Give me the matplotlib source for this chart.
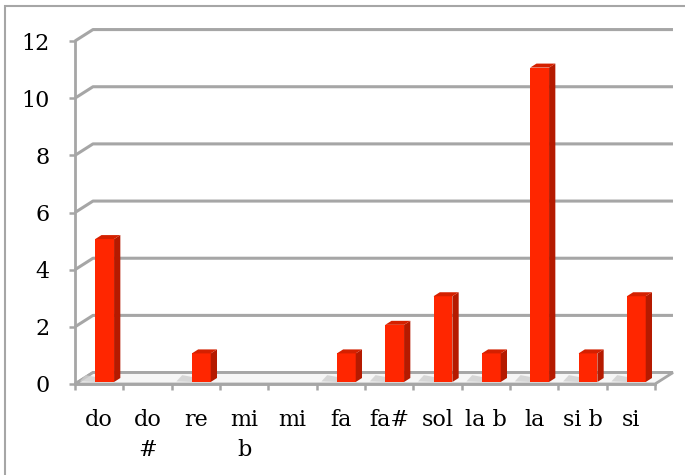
# 3D-looking column chart of note counts (Excel style)

import matplotlib.pyplot as plt
from matplotlib.patches import Polygon, Rectangle

# Data
notes = ['do', 'do #', 're', 'mi b', 'mi', 'fa', 'fa#', 'sol', 'la b', 'la', 'si b', 'si']
tick_labels = ['do', 'do\n#', 're', 'mi\nb', 'mi', 'fa', 'fa#', 'sol', 'la b', 'la', 'si b', 'si']
counts = [5, 0, 1, 0, 0, 1, 2, 3, 1, 11, 1, 3]
y_ticks = [0, 2, 4, 6, 8, 10, 12]

grid_col = '#A6A6A6'
front_col = '#FF2600'
side_col = '#B51A00'
top_col = '#D42000'

plt.rcParams['font.family'] = ['DejaVu Serif']

fig = plt.figure(figsize=(6.85, 4.75), dpi=100)
ax = fig.add_axes([75 / 685, 91 / 475, 580 / 685, 343 / 475])
n = len(notes)
ax.set_xlim(0, n)
ax.set_ylim(0, 12)

# depth of the 3D box, in data units (about 18 px right, 12 px up)
DX, DY = 0.372, 0.40

# back wall gridlines with the left wall diagonal
for v in y_ticks:
    ax.plot([0, DX, n + DX], [v, v + DY, v + DY], color=grid_col, lw=2.2,
            clip_on=False, zorder=1, solid_capstyle='butt')

# floor
floor = Polygon([(0, 0), (n, 0), (n + DX, DY), (DX, DY)], closed=True,
                facecolor='#F6F6F6', edgecolor=grid_col, lw=2.0,
                clip_on=False, zorder=2)
ax.add_patch(floor)

# bars
w = 0.39
fx, fy = 0.063, 0.07      # front face offset from floor front edge
ddx, ddy = 0.13, 0.14     # bar depth
for i, v in enumerate(counts):
    if v == 0:
        continue
    xl = i + 0.55 + fx - w / 2
    xr = xl + w
    b = fy
    t = v + fy
    # soft shadow on the floor
    ax.add_patch(Polygon([(xl - 0.32, b + 0.02), (xl, b), (xl + ddx, b + ddy),
                          (xl - 0.2, b + ddy + 0.1)], closed=True,
                         facecolor='#CFCFCF', edgecolor='none', alpha=0.8,
                         clip_on=False, zorder=3))
    ax.bar(i + 0.55 + fx, v, width=w, bottom=b, color=front_col,
           edgecolor='none', zorder=5, clip_on=False)
    ax.add_patch(Polygon([(xr, b), (xr + ddx, b + ddy), (xr + ddx, t + ddy), (xr, t)],
                         closed=True, facecolor=side_col, edgecolor='none',
                         clip_on=False, zorder=5))
    ax.add_patch(Polygon([(xl, t), (xl + ddx, t + ddy), (xr + ddx, t + ddy), (xr, t)],
                         closed=True, facecolor=top_col, edgecolor='none',
                         clip_on=False, zorder=5))

# axes styling
for s in ['top', 'right']:
    ax.spines[s].set_visible(False)
for s in ['left', 'bottom']:
    ax.spines[s].set_color(grid_col)
    ax.spines[s].set_linewidth(2.0)
    ax.spines[s].set_zorder(4)
ax.set_yticks(y_ticks)
ax.tick_params(axis='y', length=4.5, width=1.8, color=grid_col, pad=13.5,
               labelsize=16, labelcolor='black')
ax.set_xticks(range(n + 1))
ax.set_xticklabels([])
ax.tick_params(axis='x', which='major', length=4.5, width=1.8, color=grid_col)
ax.set_xticks([i + 0.5 for i in range(n)], minor=True)
ax.set_xticklabels(tick_labels, minor=True, fontsize=16, linespacing=1.5,
                   va='top')
ax.tick_params(axis='x', which='minor', length=0, pad=18)
ax.patch.set_visible(False)

# chart border (runs off the right and bottom edges of the image)
fig.add_artist(Rectangle((5 / 685, -0.05), 0.995, 1.05 - 6.5 / 475,
                         transform=fig.transFigure, fill=False,
                         edgecolor=grid_col, lw=1.5))

plt.savefig('out.png', dpi=100)
